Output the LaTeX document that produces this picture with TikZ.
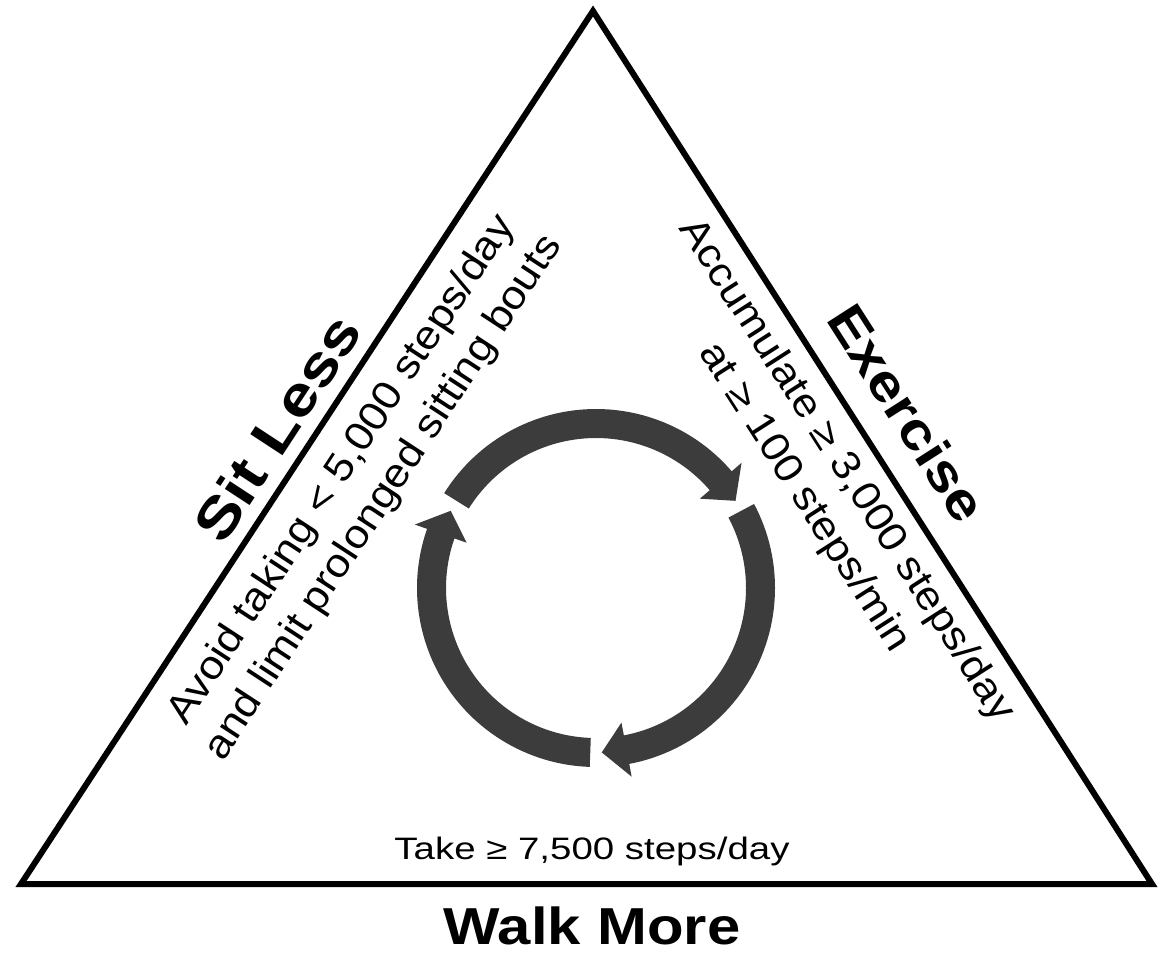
\documentclass[tikz,border=0pt]{standalone}
\usepackage{fontspec}
\setmainfont{Liberation Sans}
\usetikzlibrary{calc}
\definecolor{ringgray}{RGB}{60,60,60}
\begin{document}
\begin{tikzpicture}[x=0.5pt,y=0.5pt,
  heading/.style={font=\fontsize{26}{30}\selectfont\bfseries, inner sep=0pt},
  note/.style={font=\fontsize{20}{25}\selectfont, align=center, inner sep=0pt},
  basenote/.style={font=\fontsize{15.5}{18}\selectfont, inner sep=0pt},
  ring/.style={fill=ringgray, draw=none}]
\useasboundingbox (0,0) rectangle (1159,-959);
\coordinate (L) at (21,-884);
\coordinate (A) at (593,-11);
\coordinate (R) at (1152,-884);
\draw[line width=3pt, line join=miter] (L) -- (A) -- (R) -- cycle;

% left side
\coordinate (PLh) at ($(L)!0.50!(A)$);
\coordinate (PLn) at ($(L)!0.50!(A)$);
\node[heading, font=\fontsize{28}{32}\selectfont\bfseries, rotate=56.76, xscale=1.2] (sit)
  at ($(PLh)!18pt!90:(A)$) {Sit Less};
\node[note, rotate=56.76, xscale=1.1] (avoid) at ($(PLn)!33.5pt!-90:(A)$)
  {Avoid taking < 5,000 steps/day\\and limit prolonged sitting bouts};

% right side
\coordinate (PRh) at ($(A)!0.49!(R)$);
\coordinate (PRn) at ($(A)!0.505!(R)$);
\node[heading, rotate=-57.37, xscale=1.15] (ex) at ($(PRh)!24pt!90:(R)$) {Exercise};
\node[note, rotate=-57.37, xscale=1.1] (acc) at ($(PRn)!30pt!-90:(R)$)
  {Accumulate ≥ 3,000 steps/day\\at ≥ 100 steps/min};

% bottom
\node[basenote, anchor=base, xscale=1.24] (take) at (592,-859) {Take ≥ 7,500 steps/day};
\node[heading, anchor=base, xscale=1.15] (walk) at (592,-944) {Walk More};

% cycle arrows
\begin{scope}[shift={(596,-588)}]
\foreach \arcS in {148,28,-92} {
  \pgfmathsetmacro\arcT{\arcS-116}
  \pgfmathsetmacro\arcB{\arcS-116+8.7}
  \fill[ring] (\arcS:179) arc[start angle=\arcS, end angle=\arcB, radius=179]
    -- (\arcB:192) -- (\arcT:164.5) -- (\arcB:137) -- (\arcB:150)
    arc[start angle=\arcB, end angle=\arcS, radius=150] -- cycle;
}
\end{scope}
\end{tikzpicture}
\end{document}
